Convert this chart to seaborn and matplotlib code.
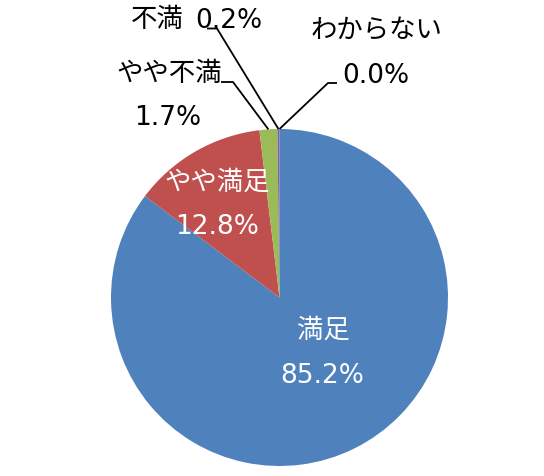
import numpy as np
import matplotlib
matplotlib.use("Agg")
import matplotlib.pyplot as plt
import seaborn as sns

# ---- data ----
categories = ["満足", "やや満足", "やや不満", "不満", "わからない"]
values = [85.2, 12.8, 1.7, 0.2, 0.0]
colors = ["#4F81BD", "#C0504D", "#9BBB59", "#8064A2", "#F79646"]

sns.set_theme(style="white")
plt.rcParams['font.family'] = ['DejaVu Sans', 'Noto Sans CJK JP']

W, H = 544, 477
fig = plt.figure(figsize=(W / 100, H / 100), dpi=100)
ax = fig.add_axes([0, 0, 1, 1])

cx, cy, R = 279.5, H - 298.5, 168.5
ax.pie(values, colors=colors, startangle=90, counterclock=False,
       center=(cx, cy), radius=R, frame=True,
       wedgeprops=dict(linewidth=0))
ax.set_xlim(0, W)
ax.set_ylim(0, H)
ax.set_aspect('equal')
ax.axis('off')

FS = 19

def Y(y):
    return H - y

def edge_point(i):
    total = sum(values)
    before = sum(values[:i])
    mid = (before + values[i] / 2) / total
    ang = np.deg2rad(90 - 360 * mid)
    return cx + R * np.cos(ang), cy + R * np.sin(ang)

def pct(v):
    return f"{v:.1f}%"

def txt(x, y, s, color="black"):
    ax.text(x, Y(y), s, color=color, fontsize=FS, ha="center", va="center")

# inside labels (white)
txt(323, 331, categories[0], "white")
txt(322, 376, pct(values[0]), "white")
txt(217, 183, categories[1], "white")
txt(217, 227, pct(values[1]), "white")

# outside labels
txt(169, 74, categories[2])
txt(168, 118, pct(values[2]))
txt(157, 20, categories[3])
txt(229, 21, pct(values[3]))
txt(376, 31, categories[4])
txt(376, 76, pct(values[4]))

# leader lines
lw = 1.3
ex, ey = edge_point(2)
ax.plot([221, 233, ex], [Y(83), Y(83), ey], color="black", lw=lw, solid_capstyle="butt")
ex, ey = edge_point(3)
ax.plot([207, 217, ex], [Y(29.5), Y(29.5), ey], color="black", lw=lw, solid_capstyle="butt")
ex, ey = edge_point(4)
ax.plot([ex, 328, 337], [ey, Y(84), Y(84)], color="black", lw=lw, solid_capstyle="butt")

fig.savefig("out.png", dpi=100, facecolor="white")
